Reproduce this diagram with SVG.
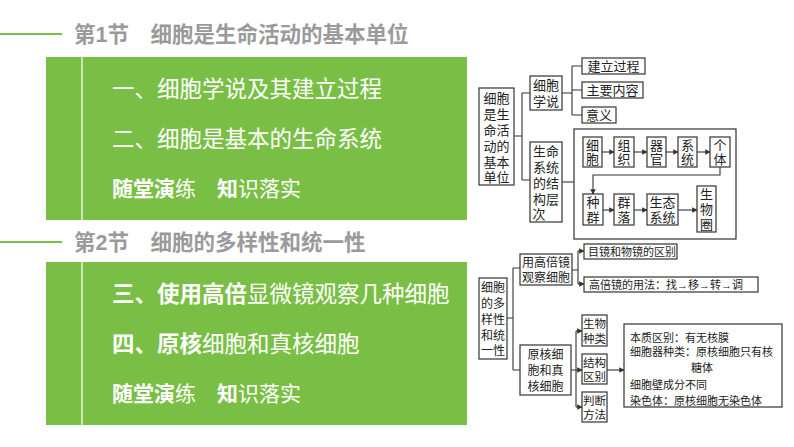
<svg xmlns="http://www.w3.org/2000/svg" width="794" height="447" viewBox="0 0 794 447">
<defs>
<style>
.t{font-family:"Liberation Sans","Noto Sans CJK SC",sans-serif}
.h{font-size:21.5px;font-weight:bold;fill:#9a9a9a}
.g{font-size:22.5px;fill:#fff}
.gb{font-size:21px;fill:#fff}
.b{fill:#fff;stroke:#333;stroke-width:1.2}
.s{font-size:13px;fill:#222}
.s12{font-size:12px}
.s11{font-size:11px}
.s115{font-size:11.5px}
.c{fill:none;stroke:#333;stroke-width:1.1}
</style>
<marker id="a" viewBox="0 0 8 8" refX="7" refY="4" markerWidth="5" markerHeight="5" orient="auto"><path d="M0,0L8,4L0,8z" fill="#333"/></marker>
</defs>
<rect width="794" height="447" fill="#fff"/>
<g id="sec1">
<line x1="0" y1="34" x2="62" y2="34" stroke="#7abf45" stroke-width="2"/>
<text class="t h" x="74" y="42">第1节　细胞是生命活动的基本单位</text>
<rect x="46" y="57" width="421" height="163" fill="#7abf45"/>
<line x1="82" y1="57" x2="82" y2="220" stroke="#e6f2dc" stroke-width="1.5"/>
<text class="t g" x="112" y="97">一、细胞学说及其建立过程</text>
<text class="t g" x="112" y="147">二、细胞是基本的生命系统</text>
<text class="t gb" x="112" y="196"><tspan font-weight="bold">随堂演</tspan>练　<tspan font-weight="bold">知</tspan>识落实</text>
</g>
<g id="sec2">
<line x1="0" y1="242" x2="62" y2="242" stroke="#7abf45" stroke-width="2"/>
<text class="t h" x="74" y="250">第2节　细胞的多样性和统一性</text>
<rect x="46" y="262" width="421" height="163" fill="#7abf45"/>
<line x1="82" y1="262" x2="82" y2="425" stroke="#e6f2dc" stroke-width="1.5"/>
<text class="t g" x="112" y="302"><tspan font-weight="bold">三、使用高倍</tspan>显微镜观察几种细胞</text>
<text class="t g" x="112" y="352"><tspan font-weight="bold">四、原核</tspan>细胞和真核细胞</text>
<text class="t gb" x="112" y="401"><tspan font-weight="bold">随堂演</tspan>练　<tspan font-weight="bold">知</tspan>识落实</text>
</g>
<g id="n-big"><rect class="b" x="574" y="129" width="162" height="110"/></g>
<g id="connectors">
<path class="c" d="M514,136H522M522,93V180M522,93H530M522,180H530"/>
<path class="c" d="M562,93H572M572,66V115M572,66H582M572,90H582M572,115H582"/>
<path class="c" d="M562,182H574"/>
<path class="c" marker-end="url(#a)" d="M602,152H614"/>
<path class="c" marker-end="url(#a)" d="M634,152H647"/>
<path class="c" marker-end="url(#a)" d="M666,152H678"/>
<path class="c" marker-end="url(#a)" d="M697,152H710"/>
<path class="c" marker-end="url(#a)" d="M720,167V175H593V194"/>
<path class="c" marker-end="url(#a)" d="M603,210H614"/>
<path class="c" marker-end="url(#a)" d="M634,210H647"/>
<path class="c" marker-end="url(#a)" d="M678,210H697"/>
<path class="c" d="M507,318H513M513,268V370M513,268H520M513,370H520"/>
<path class="c" d="M572,270H578M578,251V284"/>
<path class="c" marker-end="url(#a)" d="M578,251H584"/>
<path class="c" marker-end="url(#a)" d="M578,284H584"/>
<path class="c" d="M571,370H576M576,331V407"/>
<path class="c" marker-end="url(#a)" d="M576,331H582"/>
<path class="c" marker-end="url(#a)" d="M576,370H582"/>
<path class="c" marker-end="url(#a)" d="M576,407H582"/>
<path class="c" marker-end="url(#a)" d="M607,370H624"/>
</g>
<g id="n-main1"><rect class="b" x="479" y="88" width="35" height="97"/><text class="t s" x="496.5" text-anchor="middle"><tspan x="496.5" y="103">细胞</tspan><tspan x="496.5" y="119">是生</tspan><tspan x="496.5" y="135">命活</tspan><tspan x="496.5" y="151">动的</tspan><tspan x="496.5" y="167">基本</tspan><tspan x="496.5" y="182">单位</tspan></text></g>
<g id="n-xb"><rect class="b" x="530" y="76" width="32" height="34"/><text class="t s" x="546" text-anchor="middle"><tspan x="546" y="90">细胞</tspan><tspan x="546" y="106">学说</tspan></text></g>
<g id="n-jl"><rect class="b" x="582" y="58" width="63" height="16"/><text class="t s" x="613.5" y="70.5" text-anchor="middle">建立过程</text></g>
<g id="n-zy"><rect class="b" x="582" y="82" width="61" height="16"/><text class="t s" x="612.5" y="94.5" text-anchor="middle">主要内容</text></g>
<g id="n-yy"><rect class="b" x="582" y="107" width="34" height="16"/><text class="t s" x="599" y="119.5" text-anchor="middle">意义</text></g>
<g id="n-sm"><rect class="b" x="530" y="142" width="32" height="80"/><text class="t s" x="546" text-anchor="middle"><tspan x="546" y="156">生命</tspan><tspan x="546" y="172">系统</tspan><tspan x="546" y="188">的结</tspan><tspan x="546" y="204">构层</tspan><tspan x="539" y="219">次</tspan></text></g>
<g id="n-xbao"><rect class="b" x="583" y="137" width="19" height="30"/><text class="t s" x="592.5" text-anchor="middle"><tspan x="592.5" y="150">细</tspan><tspan x="592.5" y="164">胞</tspan></text></g>
<g id="n-zz"><rect class="b" x="614" y="137" width="20" height="30"/><text class="t s" x="624" text-anchor="middle"><tspan x="624" y="150">组</tspan><tspan x="624" y="164">织</tspan></text></g>
<g id="n-qg"><rect class="b" x="647" y="137" width="19" height="30"/><text class="t s" x="656.5" text-anchor="middle"><tspan x="656.5" y="150">器</tspan><tspan x="656.5" y="164">官</tspan></text></g>
<g id="n-xt"><rect class="b" x="678" y="137" width="19" height="30"/><text class="t s" x="687.5" text-anchor="middle"><tspan x="687.5" y="150">系</tspan><tspan x="687.5" y="164">统</tspan></text></g>
<g id="n-gt"><rect class="b" x="710" y="137" width="20" height="30"/><text class="t s" x="720" text-anchor="middle"><tspan x="720" y="150">个</tspan><tspan x="720" y="164">体</tspan></text></g>
<g id="n-zq"><rect class="b" x="583" y="194" width="20" height="31"/><text class="t s" x="593" text-anchor="middle"><tspan x="593" y="207">种</tspan><tspan x="593" y="222">群</tspan></text></g>
<g id="n-ql"><rect class="b" x="614" y="194" width="20" height="31"/><text class="t s" x="624" text-anchor="middle"><tspan x="624" y="207">群</tspan><tspan x="624" y="222">落</tspan></text></g>
<g id="n-st"><rect class="b" x="647" y="194" width="31" height="31"/><text class="t s" x="662.5" text-anchor="middle"><tspan x="662.5" y="207">生态</tspan><tspan x="662.5" y="222">系统</tspan></text></g>
<g id="n-swq"><rect class="b" x="697" y="186" width="19" height="46"/><text class="t s" x="706.5" text-anchor="middle"><tspan x="706.5" y="199">生</tspan><tspan x="706.5" y="214">物</tspan><tspan x="706.5" y="229">圈</tspan></text></g>
<g id="n-main2"><rect class="b" x="479" y="278" width="28" height="81"/><text class="t s s12" x="493" text-anchor="middle"><tspan x="493" y="292">细胞</tspan><tspan x="493" y="308">的多</tspan><tspan x="493" y="324">样性</tspan><tspan x="493" y="340">和统</tspan><tspan x="493" y="355">一性</tspan></text></g>
<g id="n-gbj"><rect class="b" x="520" y="254" width="52" height="31"/><text class="t s s12" x="546" text-anchor="middle"><tspan x="546" y="267">用高倍镜</tspan><tspan x="546" y="282">观察细胞</tspan></text></g>
<g id="n-mj"><rect class="b" x="584" y="244" width="93" height="15"/><text class="t s s11" x="588" y="256">目镜和物镜的区别</text></g>
<g id="n-yf"><rect class="b" x="584" y="277" width="174" height="15"/><text class="t s s11" x="589" y="289">高倍镜的用法：找→移→转→调</text></g>
<g id="n-yh"><rect class="b" x="520" y="345" width="51" height="50"/><text class="t s s12" x="545.5" text-anchor="middle"><tspan x="545.5" y="359">原核细</tspan><tspan x="545.5" y="375">胞和真</tspan><tspan x="545.5" y="391">核细胞</tspan></text></g>
<g id="n-sw"><rect class="b" x="582" y="315" width="25" height="31"/><text class="t s s115" x="594.5" text-anchor="middle"><tspan x="594.5" y="328">生物</tspan><tspan x="594.5" y="343">种类</tspan></text></g>
<g id="n-jg"><rect class="b" x="582" y="354" width="25" height="30"/><text class="t s s115" x="594.5" text-anchor="middle"><tspan x="594.5" y="367">结构</tspan><tspan x="594.5" y="381">区别</tspan></text></g>
<g id="n-pd"><rect class="b" x="582" y="392" width="25" height="30"/><text class="t s s115" x="594.5" text-anchor="middle"><tspan x="594.5" y="405">判断</tspan><tspan x="594.5" y="419">方法</tspan></text></g>
<g id="n-qb"><rect class="b" x="624" y="324" width="158" height="83"/><text class="t s s11"><tspan x="630" y="342">本质区别：有无核膜</tspan><tspan x="630" y="356">细胞器种类：原核细胞只有核</tspan><tspan x="691" y="372">糖体</tspan><tspan x="630" y="389">细胞壁成分不同</tspan><tspan x="630" y="405">染色体：原核细胞无染色体</tspan></text></g>
</svg>
